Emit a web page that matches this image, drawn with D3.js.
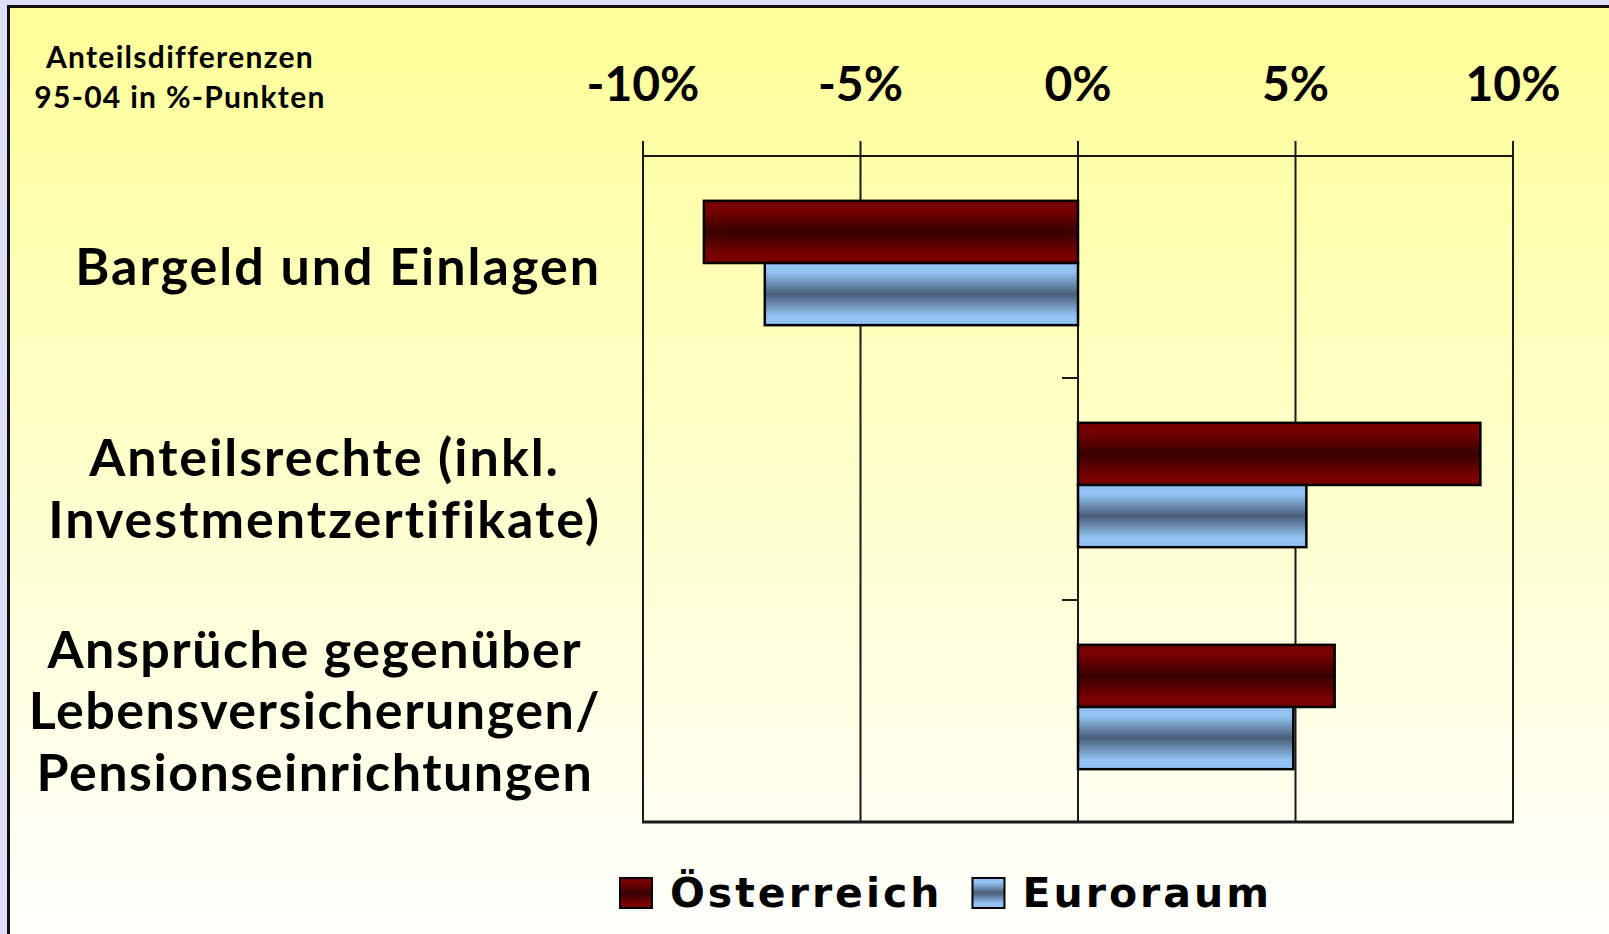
<!DOCTYPE html>
<html>
<head>
<meta charset="utf-8">
<script src="https://cdn.jsdelivr.net/npm/d3@7"></script>
<style>
  html, body { margin: 0; padding: 0; background: #e0e0fb; }
  text { font-family: Lato, "Open Sans", sans-serif; font-weight: 700; fill: #000; }
</style>
</head>
<body>
<div id="chart"></div>
<script>
// data
var categories = [
  ["Bargeld und Einlagen"],
  ["Anteilsrechte (inkl.", "Investmentzertifikate)"],
  ["Ansprüche gegenüber", "Lebensversicherungen/", "Pensionseinrichtungen"]
]
var seriesNames = ["Österreich", "Euroraum"]
var oesterreich = [-8.6, 9.25, 5.9]
var euroraum = [-7.2, 5.25, 4.95]
var tickValues = [-10, -5, 0, 5, 10]
var titleLines = ["Anteilsdifferenzen", "95-04 in %-Punkten"]

var width = 1609
var height = 934
var plot = {left: 643, right: 1513, top: 156, bottom: 822}

var svg = d3.select("#chart")
  .append("svg")
    .attr("width", width)
    .attr("height", height)

var defs = svg.append("defs")

// background gradient
var bg = defs.append("linearGradient").attr("id", "bg")
  .attr("x1", 0).attr("y1", 0).attr("x2", 0).attr("y2", 1)
bg.append("stop").attr("offset", "0%").attr("stop-color", "#ffff99")
bg.append("stop").attr("offset", "100%").attr("stop-color", "#ffffff")

// bar gradients (light - dark - light)
function barGradient(id, edge, mid) {
  var g = defs.append("linearGradient").attr("id", id)
    .attr("x1", 0).attr("y1", 0).attr("x2", 0).attr("y2", 1)
  g.append("stop").attr("offset", "0%").attr("stop-color", edge)
  g.append("stop").attr("offset", "15%").attr("stop-color", edge)
  g.append("stop").attr("offset", "50%").attr("stop-color", mid)
  g.append("stop").attr("offset", "85%").attr("stop-color", edge)
  g.append("stop").attr("offset", "100%").attr("stop-color", edge)
}
barGradient("grad0", "#780000", "#380000")
barGradient("grad1", "#92c3f3", "#4a5e78")
var fills = ["url(#grad0)", "url(#grad1)"]

// frame
svg.append("rect")
  .attr("x", 8.5).attr("y", 6.5)
  .attr("width", width + 10).attr("height", height + 10)
  .attr("fill", "url(#bg)")
  .attr("stroke", "#111")
  .attr("stroke-width", 3)

// scales
var x = d3.scaleLinear()
  .domain([-10, 10])
  .range([plot.left, plot.right])

// bars sit slightly above the centre of each category band
var y = d3.scaleBand()
  .domain(d3.range(categories.length))
  .range([plot.top - 4, plot.bottom - 4])
  .paddingInner(0.44)
  .paddingOuter(0.22)

var ySub = d3.scaleBand()
  .domain(d3.range(seriesNames.length))
  .range([0, y.bandwidth()])

var step = (plot.bottom - plot.top) / categories.length

// gridlines
svg.append("g")
  .selectAll("line")
  .data(tickValues)
  .enter()
  .append("line")
    .attr("x1", function(d) { return x(d) })
    .attr("x2", function(d) { return x(d) })
    .attr("y1", plot.top - 15)
    .attr("y2", plot.bottom)
    .attr("stroke", "#1a1a1a")
    .attr("stroke-width", 2)

// top axis line & bottom line
svg.append("line")
  .attr("x1", plot.left).attr("x2", plot.right)
  .attr("y1", plot.top).attr("y2", plot.top)
  .attr("stroke", "#1a1a1a").attr("stroke-width", 2)
svg.append("line")
  .attr("x1", plot.left - 1).attr("x2", plot.right + 1)
  .attr("y1", plot.bottom).attr("y2", plot.bottom)
  .attr("stroke", "#1a1a1a").attr("stroke-width", 3)

// tick labels
svg.append("g")
  .selectAll("text")
  .data(tickValues)
  .enter()
  .append("text")
    .attr("x", function(d) { return x(d) })
    .attr("y", 101)
    .attr("text-anchor", "middle")
    .style("font-size", "48px")
    .text(function(d) { return (d < 0 ? "-" : "") + Math.abs(d) + "%" })

// category separators on zero line
svg.append("g")
  .selectAll("line")
  .data(d3.range(1, categories.length))
  .enter()
  .append("line")
    .attr("x1", x(0) - 16)
    .attr("x2", x(0))
    .attr("y1", function(i) { return plot.top + i * step })
    .attr("y2", function(i) { return plot.top + i * step })
    .attr("stroke", "#1a1a1a")
    .attr("stroke-width", 2)

// bars
var data = []
categories.forEach(function(c, i) {
  data.push({cat: i, s: 0, v: oesterreich[i]})
  data.push({cat: i, s: 1, v: euroraum[i]})
})

svg.append("g")
  .selectAll("rect")
  .data(data)
  .enter()
  .append("rect")
    .attr("x", function(d) { return x(Math.min(0, d.v)) })
    .attr("width", function(d) { return Math.abs(x(d.v) - x(0)) })
    .attr("y", function(d) { return y(d.cat) + ySub(d.s) })
    .attr("height", ySub.bandwidth())
    .attr("fill", function(d) { return fills[d.s] })
    .attr("stroke", "#000")
    .attr("stroke-width", 2.5)

// category labels: block right-aligned, lines centred within block
var labelRight = 601
var lineH = 61.5
categories.forEach(function(lines, i) {
  var g = svg.append("g")
  var cy = plot.top + (i + 0.5) * step
  var texts = g.selectAll("text")
    .data(lines)
    .enter()
    .append("text")
      .attr("y", function(d, j) { return cy + (j - (lines.length - 1) / 2) * lineH + 18 })
      .attr("text-anchor", "middle")
      .style("font-size", "52px")
      .style("letter-spacing", lines.length > 2 ? "1.5px" : "2px")
      .text(function(d) { return d })
  var maxW = 0
  texts.each(function() { maxW = Math.max(maxW, this.getComputedTextLength()) })
  texts.attr("x", labelRight - maxW / 2)
})

// title
svg.append("g")
  .selectAll("text")
  .data(titleLines)
  .enter()
  .append("text")
    .attr("x", 180)
    .attr("y", function(d, i) { return 68 + i * 40 })
    .attr("text-anchor", "middle")
    .style("font-size", "30px")
    .style("letter-spacing", "1.3px")
    .text(function(d) { return d })

// legend
var legend = svg.append("g")
var lx = 620
seriesNames.forEach(function(name, i) {
  legend.append("rect")
    .attr("x", lx).attr("y", 878)
    .attr("width", 32).attr("height", 30)
    .attr("fill", fills[i])
    .attr("stroke", "#000").attr("stroke-width", 2)
  var t = legend.append("text")
    .attr("x", lx + 50)
    .attr("y", 907)
    .style("font-family", "'DejaVu Sans', sans-serif")
    .style("font-size", "41px")
    .style("letter-spacing", "3px")
    .text(name)
  lx = lx + 50 + t.node().getComputedTextLength() + 30
})
</script>
</body>
</html>
